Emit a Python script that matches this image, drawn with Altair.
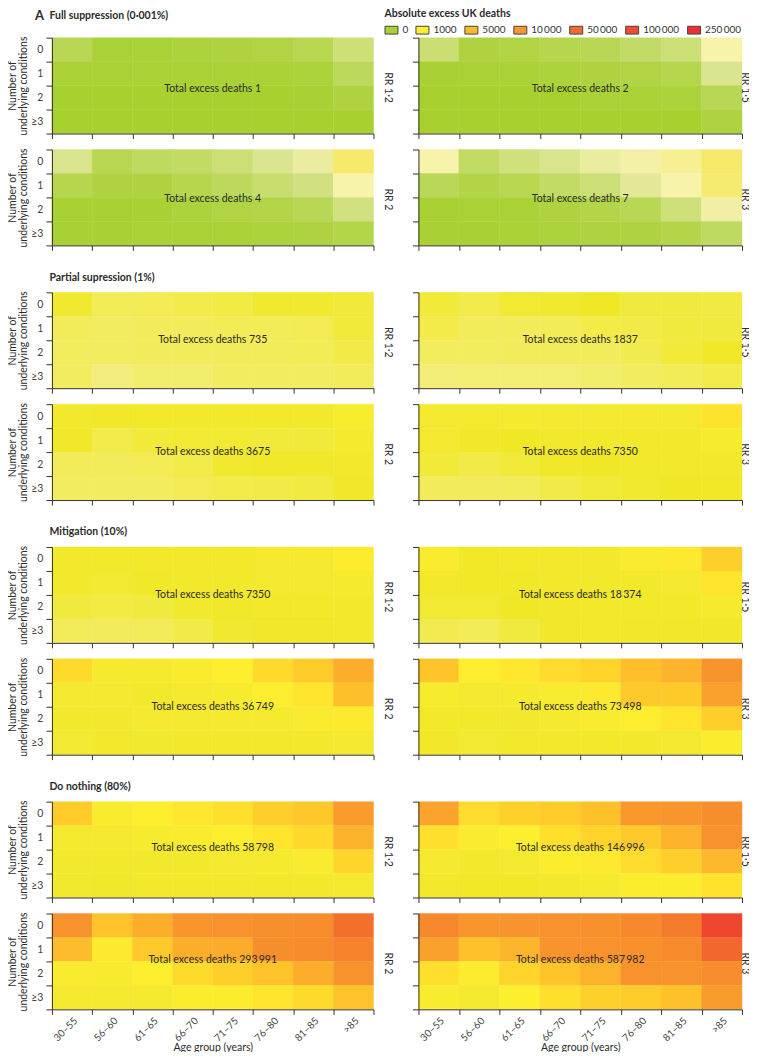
import altair as alt
import pandas as pd

AGES = ["30–55", "56–60", "61–65", "66–70", "71–75", "76–80", "81–85", ">85"]
CONDITIONS = ["0", "1", "2", "≥3"]
FONT = "Lato"
THIN = "\u2009"

# colour key (estimated deaths -> colour)
STOPS = [0, .05, .1, .2, .4, .7, 1, 1.5, 3, 10, 20, 50, 120, 250, 500, 800, 1000, 2000, 3000,
         5000, 10000, 50000, 100000, 250000]
COLOURS = ["#a8d130", "#b3d549", "#bcd95c", "#cbdf76", "#dbe58f", "#ebeca0", "#f7f3ab", "#f6ef8c",
           "#f5ea6c", "#f3ee80", "#f2ec60", "#f2eb4c", "#f1ea38", "#f0e826", "#f4e92e", "#f9ec2e",
           "#fdee2e", "#fedd2c", "#fecc2a", "#fdb92b", "#f8952d", "#f26a2d", "#ef4b2e", "#ed2e31"]

LEGEND_LABELS = ["0", "1000", "5000", f"10{THIN}000", f"50{THIN}000", f"100{THIN}000", f"250{THIN}000"]
LEGEND_COLOURS = ["#a8d134", "#fdee30", "#fdb92b", "#f8952d", "#f26a2d", "#ef4b2e", "#ed2e31"]

full_12 = [[.08, .01, .01, .02, .03, .04, .07, .22],
           [.01, .01, .01, .01, .01, .01, .02, .1],
           [0, 0, 0, 0, 0, 0, .005, .03],
           [0, 0, 0, 0, 0, 0, 0, 0]]
full_15 = [[.19, .03, .04, .06, .08, .14, .2, 1],
           [.005, .01, .01, .02, .03, .04, .06, .4],
           [0, 0, 0, 0, .01, .01, .02, .08],
           [0, 0, 0, 0, 0, 0, 0, .03]]
full_2 = [[.38, .07, .12, .13, .2, .4, .7, 3],
          [.06, .03, .03, .06, .1, .17, .27, 1],
          [.005, .005, .005, .02, .04, .05, .08, .27],
          [.005, .005, .01, .01, .01, .02, .03, .05]]
full_3 = [[1, .13, .25, .38, .68, .9, 1.4, 3],
          [.09, .045, .07, .13, .2, .55, 1, 2.8],
          [.005, .01, .01, .03, .05, .08, .23, .85],
          [.005, .005, .01, .02, .03, .03, .05, .12]]

part_12 = [[180, 35, 40, 50, 80, 180, 180, 110],
           [30, 20, 25, 30, 35, 35, 40, 120],
           [22, 22, 25, 30, 30, 30, 35, 70],
           [20, 9, 16, 16, 20, 20, 20, 30]]
part_15 = [[120, 50, 170, 180, 250, 100, 100, 90],
           [60, 30, 30, 35, 65, 70, 100, 100],
           [22, 22, 25, 30, 30, 45, 120, 240],
           [13, 14, 14, 14, 17, 20, 35, 50]]
part_2 = [[450, 240, 400, 400, 400, 400, 400, 750],
          [240, 50, 120, 170, 170, 110, 110, 600],
          [30, 30, 40, 60, 200, 230, 240, 450],
          [20, 20, 22, 40, 60, 70, 90, 240]]
part_3 = [[500, 480, 600, 500, 500, 500, 500, 1700],
          [500, 230, 270, 450, 450, 450, 450, 700],
          [120, 70, 120, 240, 260, 450, 450, 450],
          [25, 25, 30, 70, 120, 200, 250, 300]]

mit_12 = [[450, 400, 400, 400, 400, 500, 500, 1200],
          [400, 170, 230, 450, 450, 500, 500, 600],
          [100, 80, 100, 200, 240, 400, 400, 450],
          [30, 25, 30, 70, 180, 230, 240, 400]]
mit_15 = [[800, 300, 400, 450, 450, 800, 1300, 2800],
          [400, 300, 300, 400, 400, 400, 500, 1600],
          [170, 170, 250, 350, 400, 400, 400, 550],
          [45, 35, 100, 240, 400, 350, 350, 350]]
mit_2 = [[2200, 600, 500, 800, 1000, 2200, 3000, 6500],
         [500, 500, 450, 500, 700, 950, 1500, 4300],
         [450, 450, 500, 500, 600, 600, 800, 1300],
         [170, 400, 200, 400, 400, 450, 450, 500]]
mit_3 = [[3700, 950, 1400, 2100, 2600, 4400, 5800, 11000],
         [700, 500, 600, 750, 1300, 3300, 3200, 8500],
         [400, 400, 450, 600, 800, 950, 1600, 2900],
         [350, 170, 400, 400, 400, 450, 500, 850]]

none_12 = [[3100, 800, 1000, 1400, 1800, 2800, 3500, 9000],
           [500, 500, 700, 800, 1000, 1600, 2300, 6000],
           [450, 450, 450, 450, 500, 600, 800, 2400],
           [200, 220, 450, 450, 450, 450, 450, 500]]
none_15 = [[8000, 2100, 2700, 3100, 4200, 9500, 10000, 17000],
           [1800, 800, 1000, 1800, 2600, 3300, 6000, 13000],
           [500, 450, 500, 900, 1300, 2100, 2900, 5000],
           [400, 300, 300, 450, 600, 900, 1100, 1700]]
none_2 = [[13000, 4000, 6500, 10000, 13000, 16000, 18000, 45000],
          [4700, 1300, 3300, 6500, 7000, 17000, 19000, 28000],
          [800, 700, 1000, 2200, 2900, 4000, 6500, 13000],
          [500, 500, 500, 900, 1100, 1500, 2200, 4000]]
none_3 = [[22000, 10000, 11000, 13000, 15000, 22000, 35000, 130000],
          [8500, 4200, 5500, 12000, 13000, 15000, 20000, 55000],
          [1800, 1100, 2500, 3800, 6000, 13000, 13000, 18000],
          [800, 500, 1000, 1900, 2700, 3000, 4200, 9000]]

TOTALS = {"f12": "1", "f15": "2", "f2": "4", "f3": "7",
          "p12": "735", "p15": "1837", "p2": "3675", "p3": "7350",
          "m12": "7350", "m15": f"18{THIN}374", "m2": f"36{THIN}749", "m3": f"73{THIN}498",
          "n12": f"58{THIN}798", "n15": f"146{THIN}996", "n2": f"293{THIN}991", "n3": f"587{THIN}982"}

W_L, W_R, H = 322, 324, 96
INK = "#2b2b2b"


def txt(label, x, y, size=10.5, bold=False, align="center", angle=0, colour=INK):
    return alt.Chart(pd.DataFrame({"label": [label]})).mark_text(
        font=FONT, fontSize=size, fontWeight="bold" if bold else "normal",
        align=align, baseline="middle", angle=angle, color=colour
    ).encode(text="label:N", x=alt.value(x), y=alt.value(y))


def panel(values, total, rr, side, bottom=False, dy=0, section=None, extra=None):
    w = W_L if side == "L" else W_R
    rows = [{"age": a, "cond": c, "deaths": values[i][j]}
            for i, c in enumerate(CONDITIONS) for j, a in enumerate(AGES)]
    xaxis = alt.Axis(
        labels=bottom, labelAngle=-45, labelFont=FONT, labelFontSize=10, labelColor="#444",
        title="Age group (years)" if bottom else None, titleFont=FONT, titleFontSize=10.5,
        titleFontWeight="normal", titleColor=INK, titlePadding=0,
        tickBand="extent", tickSize=5, tickColor="#333", domainColor="#333",
        labelPadding=1, grid=False)
    yaxis = alt.Axis(
        labels=side == "L", labelFont=FONT, labelFontSize=10.5, labelColor="#444",
        title=["Number of", "underlying conditions"] if side == "L" else None,
        titleFont=FONT, titleFontSize=10.5, titleFontWeight="normal", titleColor=INK,
        titleLineHeight=11, titlePadding=2,
        tickBand="extent", tickSize=6, tickColor="#333", domainColor="#333",
        labelPadding=3, grid=False)
    scale = alt.Scale(domain=STOPS, range=COLOURS, type="linear", clamp=True)
    heat = alt.Chart(pd.DataFrame(rows)).mark_rect(strokeWidth=0.4).encode(
        x=alt.X("age:N", sort=AGES, axis=xaxis, scale=alt.Scale(paddingInner=0, paddingOuter=0)),
        y=alt.Y("cond:N", sort=CONDITIONS, axis=yaxis, scale=alt.Scale(paddingInner=0, paddingOuter=0)),
        color=alt.Color("deaths:Q", scale=scale, legend=None),
        stroke=alt.Stroke("deaths:Q", scale=scale, legend=None),
    )
    layers = [heat,
              txt(f"Total excess deaths {total}", w / 2, H / 2 + dy),
              txt(rr, w + (15 if side == "L" else 2.5), H / 2 + 2, angle=90)]
    if section:
        layers.append(txt(section[0], -2.5, section[1], bold=True, align="left"))
    if extra:
        layers += extra
    return alt.layer(*layers).properties(width=w, height=H)


legend_layer = alt.Chart(pd.DataFrame({"level": LEGEND_LABELS})).mark_square(opacity=0).encode(
    color=alt.Color("level:N", sort=None,
                    scale=alt.Scale(domain=LEGEND_LABELS, range=LEGEND_COLOURS),
                    legend=alt.Legend(
                        orient="none", legendX=-34, legendY=-29, direction="horizontal", columns=7,
                        gridAlign="none", columnPadding=5, title="Absolute excess UK deaths",
                        titleFont=FONT, titleFontSize=10.5, titleFontWeight="bold", titleColor=INK,
                        titlePadding=4, labelFont=FONT, labelFontSize=10, labelColor="#333",
                        labelOffset=4, symbolType="M-1,-0.6H1V0.6H-1Z", symbolSize=169, padding=0,
                        symbolOpacity=1, symbolStrokeColor="#444", symbolStrokeWidth=1)))

a_label = txt("A", -17, -22, size=13, bold=True, align="left")


def spacer():
    return alt.Chart(pd.DataFrame({"label": [""]})).mark_text().encode(text="label:N").properties(width=W_L, height=15)


p = [
    panel(full_12, TOTALS["f12"], "RR 1·2", "L", dy=3, section=("Full suppression (0·001%)", -22), extra=[a_label]),
    alt.layer(panel(full_15, TOTALS["f15"], "RR 1·5", "R", dy=3), legend_layer).resolve_scale(color="independent"),
    panel(full_2, TOTALS["f2"], "RR 2", "L", dy=2),
    panel(full_3, TOTALS["f3"], "RR 3", "R", dy=2),
    spacer(), spacer(),
    panel(part_12, TOTALS["p12"], "RR 1·2", "L", section=("Partial supression (1%)", -14.7)),
    panel(part_15, TOTALS["p15"], "RR 1·5", "R"),
    panel(part_2, TOTALS["p2"], "RR 2", "L"),
    panel(part_3, TOTALS["p3"], "RR 3", "R"),
    spacer(), spacer(),
    panel(mit_12, TOTALS["m12"], "RR 1·2", "L", section=("Mitigation (10%)", -14.5)),
    panel(mit_15, TOTALS["m15"], "RR 1·5", "R"),
    panel(mit_2, TOTALS["m2"], "RR 2", "L"),
    panel(mit_3, TOTALS["m3"], "RR 3", "R"),
    spacer(), spacer(),
    panel(none_12, TOTALS["n12"], "RR 1·2", "L", dy=-1.5, section=("Do nothing (80%)", -15)),
    panel(none_15, TOTALS["n15"], "RR 1·5", "R", dy=-1.5),
    panel(none_2, TOTALS["n2"], "RR 2", "L", bottom=True, dy=-1),
    panel(none_3, TOTALS["n3"], "RR 3", "R", bottom=True, dy=-1),
]

chart = alt.concat(*p, columns=2, spacing=alt.RowColnumber(row=16, column=45), bounds="flush").properties(
    padding={"left": -1, "right": -1, "top": 0, "bottom": -3}
).configure_view(stroke=None)

chart.save("out.html", embed_options={"renderer": "svg", "actions": False})
